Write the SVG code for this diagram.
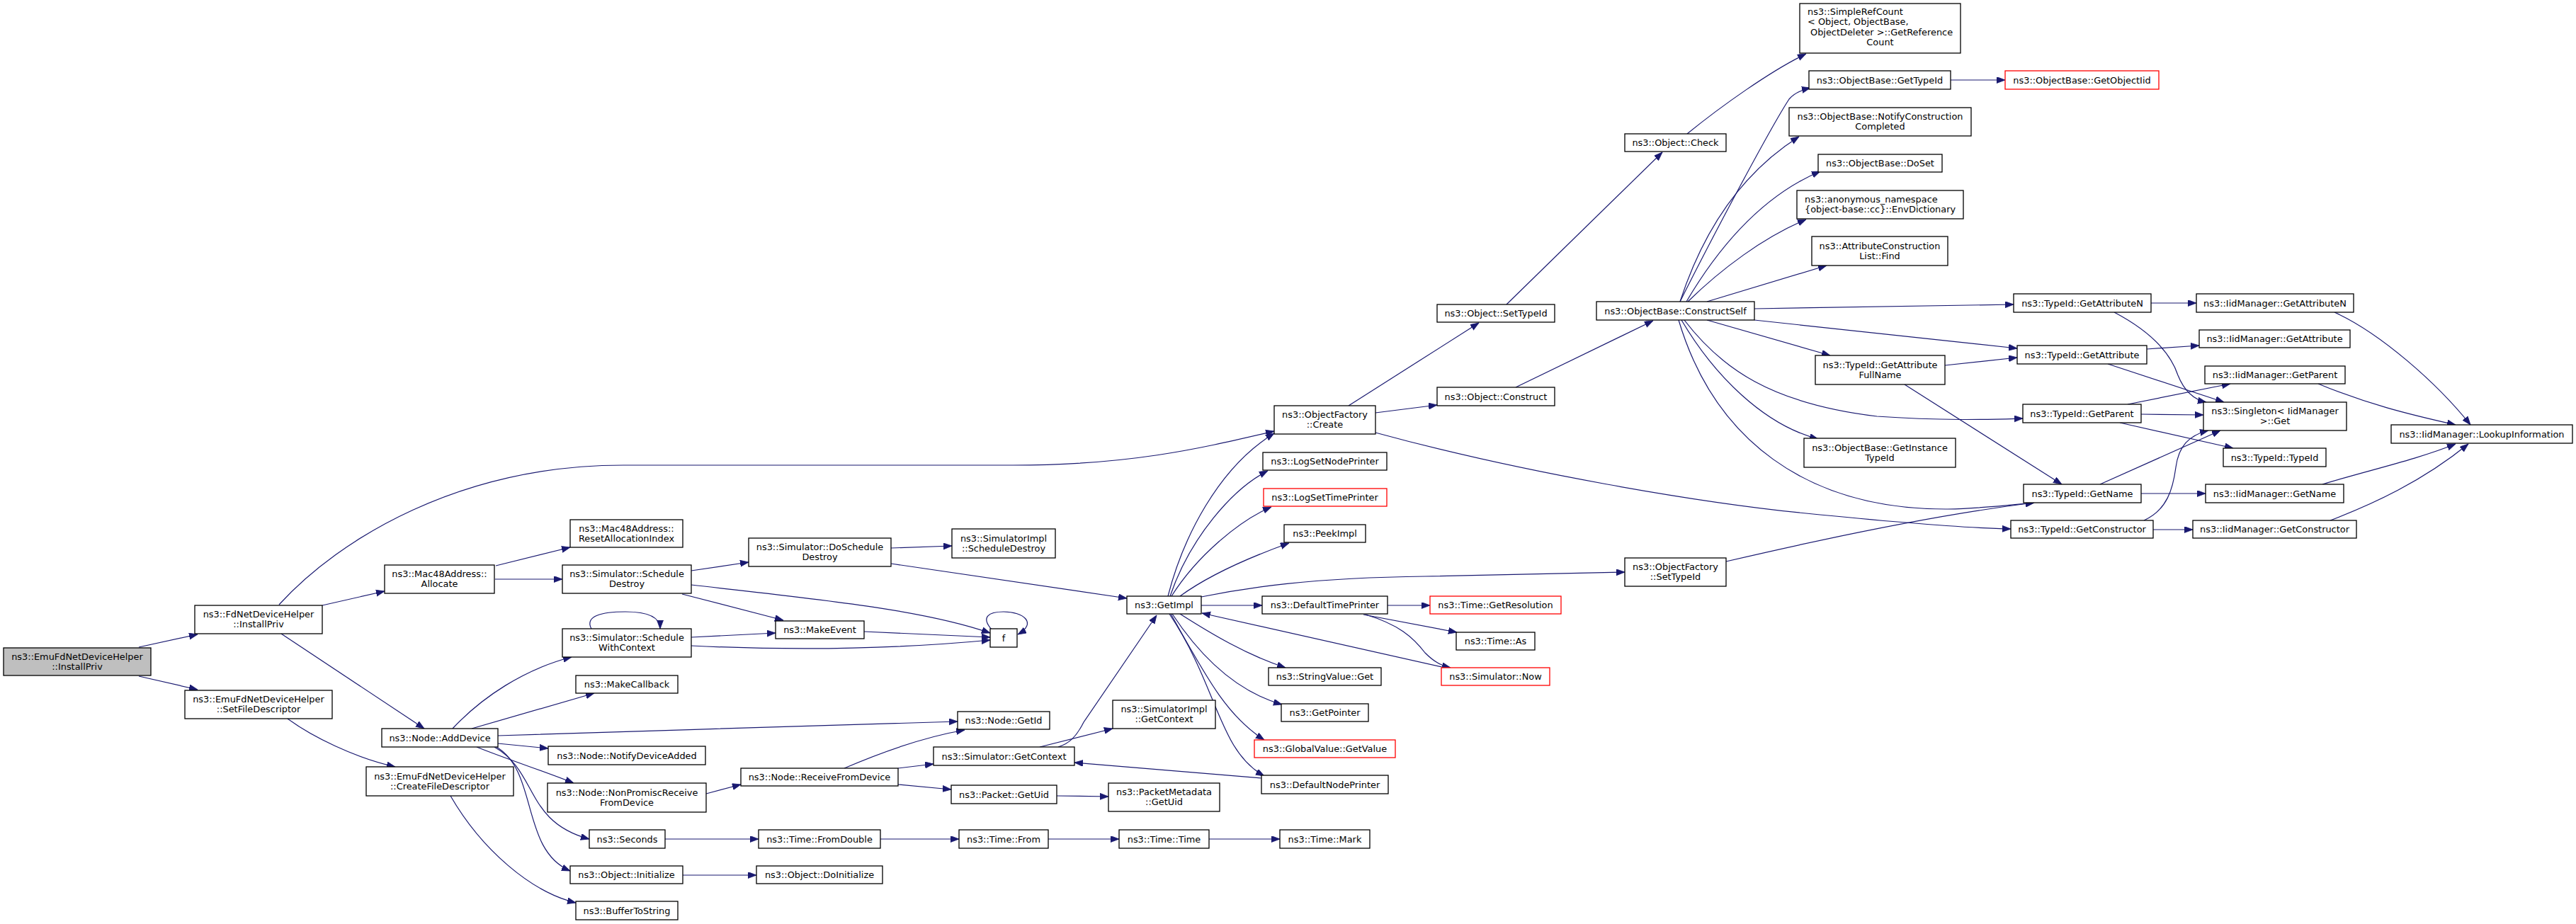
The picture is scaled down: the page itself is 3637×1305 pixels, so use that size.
<svg xmlns="http://www.w3.org/2000/svg" width="3637" height="1305" viewBox="0 0 3637 1305">
<style>
rect.n{fill:#fff;stroke:#000;stroke-width:1.3}
rect.r{fill:#fff;stroke:#ff0000;stroke-width:1.3}
rect.g{fill:#bfbfbf;stroke:#000;stroke-width:1.3}
text{font-family:"DejaVu Sans","Liberation Sans",sans-serif;font-size:12.9px;fill:#000;text-anchor:middle}
text.s{text-anchor:start}
path.e{fill:none;stroke:#191970;stroke-width:1.2;marker-end:url(#a)}
</style>
<defs>
<marker id="a" markerUnits="userSpaceOnUse" markerWidth="13" markerHeight="10" refX="12" refY="4.5" orient="auto">
<path d="M0,0 L12,4.5 L0,9 z" fill="#191970" stroke="#191970" stroke-width="0.8"/>
</marker>
</defs>
<rect x="0" y="0" width="3637" height="1305" fill="#fff"/>
<g id="edges">
<path class="e" d="M196,914 L279,896"/>
<path class="e" d="M196,955 L279,974"/>
<path class="e" d="M394,854 C 480,760 650,657 880,657 L 1430,657 C 1600,657 1700,632 1799,609"/>
<path class="e" d="M455,855 L543,835"/>
<path class="e" d="M397,895 L599,1029"/>
<path class="e" d="M406,1015 C 440,1040 500,1070 558,1083"/>
<path class="e" d="M636,1124 C 680,1200 750,1260 813,1275"/>
<path class="e" d="M700,799 L805,773"/>
<path class="e" d="M699,818 L794,818"/>
<path class="e" d="M639,1029 C 680,985 740,945 807,928"/>
<path class="e" d="M666,1029 L839,979"/>
<path class="e" d="M703,1039 C 900,1033 1200,1023 1352,1019"/>
<path class="e" d="M703,1050 L774,1057"/>
<path class="e" d="M673,1055 C 710,1070 770,1090 810,1106"/>
<path class="e" d="M698,1055 C 760,1090 740,1160 832,1185"/>
<path class="e" d="M701,1055 C 760,1090 735,1200 805,1230"/>
<path class="e" d="M835,888 C 825,870 850,864 883,864 C 915,864 932,872 932,888"/>
<path class="e" d="M976,806 L1057,794"/>
<path class="e" d="M963,839 L1106,876"/>
<path class="e" d="M976,826 C 1150,846 1300,860 1398,894"/>
<path class="e" d="M976,900 L1095,894"/>
<path class="e" d="M976,912 C 1100,918 1250,918 1398,904"/>
<path class="e" d="M1220,892 L1398,900"/>
<path class="e" d="M1400,889 C 1385,872 1395,864 1417,864 C 1445,864 1465,880 1437,896"/>
<path class="e" d="M997,1121 L1046,1108"/>
<path class="e" d="M939,1185 L1071,1185"/>
<path class="e" d="M964,1236 L1068,1236"/>
<path class="e" d="M1258,774 L1344,771"/>
<path class="e" d="M1258,796 L1591,845"/>
<path class="e" d="M1192,1085 C 1250,1060 1310,1040 1362,1031"/>
<path class="e" d="M1268,1085 L1318,1079"/>
<path class="e" d="M1268,1108 L1343,1115"/>
<path class="e" d="M1468,1055 L1571,1029"/>
<path class="e" d="M1494,1055 C 1510,1050 1520,1040 1530,1020 L1633,869"/>
<path class="e" d="M1492,1124 L1565,1125"/>
<path class="e" d="M1243,1185 L1354,1185"/>
<path class="e" d="M1480,1185 L1580,1185"/>
<path class="e" d="M1707,1185 L1807,1185"/>
<path class="e" d="M1781,1099 L1517,1077"/>
<path class="e" d="M1649,842 C 1670,760 1720,660 1799,612"/>
<path class="e" d="M1652,842 C 1680,760 1740,690 1790,665"/>
<path class="e" d="M1654,842 C 1690,785 1750,735 1795,716"/>
<path class="e" d="M1666,842 C 1710,810 1770,785 1820,767"/>
<path class="e" d="M1696,843 C 1760,830 1850,816 2012,814 L 2294,808"/>
<path class="e" d="M1696,855 L1782,855"/>
<path class="e" d="M2036,942 L1697,866"/>
<path class="e" d="M1666,867 C 1710,895 1760,925 1815,943"/>
<path class="e" d="M1655,867 C 1690,920 1740,975 1810,995"/>
<path class="e" d="M1653,867 C 1700,950 1730,1010 1785,1045"/>
<path class="e" d="M1651,867 C 1720,970 1720,1060 1785,1096"/>
<path class="e" d="M1959,855 L2019,855"/>
<path class="e" d="M1925,868 L2057,893"/>
<path class="e" d="M1928,868 C 1975,882 1995,900 2012,922 C 2025,935 2035,940 2048,943"/>
<path class="e" d="M1904,573 L2088,456"/>
<path class="e" d="M1942,583 L2029,572"/>
<path class="e" d="M1942,611 C 2150,668 2400,710 2550,725 C 2700,740 2780,746 2839,747"/>
<path class="e" d="M2437,793 C 2600,755 2750,725 2872,710"/>
<path class="e" d="M2127,430 L2347,215"/>
<path class="e" d="M2140,547 L2334,453"/>
<path class="e" d="M2382,189 C 2430,150 2500,100 2550,76"/>
<path class="e" d="M2372,426 C 2420,330 2500,180 2526,140 C 2532,133 2540,128 2556,124"/>
<path class="e" d="M2372,426 C 2400,340 2450,250 2540,193"/>
<path class="e" d="M2381,426 C 2420,360 2480,280 2570,242"/>
<path class="e" d="M2383,426 C 2430,380 2490,335 2550,310"/>
<path class="e" d="M2410,426 L2579,375"/>
<path class="e" d="M2477,436 L2843,430"/>
<path class="e" d="M2477,452 L2848,492"/>
<path class="e" d="M2410,452 L2584,502"/>
<path class="e" d="M2378,452 C 2430,520 2500,570 2650,588 C 2750,595 2820,592 2856,591"/>
<path class="e" d="M2374,452 C 2420,530 2490,600 2567,620"/>
<path class="e" d="M2370,452 C 2420,620 2550,720 2750,719 C 2800,718 2840,713 2872,710"/>
<path class="e" d="M2754,113 L2831,113"/>
<path class="e" d="M2746,516 L2848,505"/>
<path class="e" d="M2689,543 L2911,684"/>
<path class="e" d="M3037,428 L3101,428"/>
<path class="e" d="M2985,441 C 3040,470 3065,500 3075,530 C 3085,555 3100,565 3115,568"/>
<path class="e" d="M3031,493 L3105,488"/>
<path class="e" d="M2976,514 L3140,568"/>
<path class="e" d="M3004,571 L3149,542"/>
<path class="e" d="M3023,585 L3111,586"/>
<path class="e" d="M2993,597 L3153,633"/>
<path class="e" d="M2965,684 L3135,608"/>
<path class="e" d="M3023,697 L3114,697"/>
<path class="e" d="M3027,735 C 3060,720 3068,690 3072,660 C 3076,630 3090,615 3118,608"/>
<path class="e" d="M3040,748 L3096,748"/>
<path class="e" d="M3296,441 C 3360,470 3440,540 3488,600"/>
<path class="e" d="M3273,542 C 3340,570 3400,585 3467,600"/>
<path class="e" d="M3279,684 C 3340,665 3410,650 3467,627"/>
<path class="e" d="M3290,735 C 3350,712 3420,680 3485,627"/>
</g>
<g id="n0"><rect class="g" x="5" y="915" width="208" height="39"/><text x="109" y="931.5">ns3::EmuFdNetDeviceHelper</text><text x="109" y="945.5">::InstallPriv</text></g>
<g id="n1"><rect class="n" x="275" y="855" width="180" height="40"/><text x="365" y="872">ns3::FdNetDeviceHelper</text><text x="365" y="886">::InstallPriv</text></g>
<g id="n2"><rect class="n" x="261" y="975" width="208" height="40"/><text x="365" y="992">ns3::EmuFdNetDeviceHelper</text><text x="365" y="1006">::SetFileDescriptor</text></g>
<g id="n3"><rect class="n" x="517" y="1083" width="208" height="41"/><text x="621" y="1100.5">ns3::EmuFdNetDeviceHelper</text><text x="621" y="1114.5">::CreateFileDescriptor</text></g>
<g id="n4"><rect class="n" x="543" y="798" width="155" height="40"/><text x="620.5" y="815">ns3::Mac48Address::</text><text x="620.5" y="829">Allocate</text></g>
<g id="n5"><rect class="n" x="539" y="1029" width="164" height="26"/><text x="621" y="1046.5">ns3::Node::AddDevice</text></g>
<g id="n6"><rect class="n" x="805" y="734" width="159" height="39"/><text x="884.5" y="750.5">ns3::Mac48Address::</text><text x="884.5" y="764.5">ResetAllocationIndex</text></g>
<g id="n7"><rect class="n" x="794" y="798" width="182" height="40"/><text x="885" y="815">ns3::Simulator::Schedule</text><text x="885" y="829">Destroy</text></g>
<g id="n8"><rect class="n" x="794" y="888" width="182" height="40"/><text x="885" y="905">ns3::Simulator::Schedule</text><text x="885" y="919">WithContext</text></g>
<g id="n9"><rect class="n" x="813" y="954" width="144" height="25"/><text x="885" y="971">ns3::MakeCallback</text></g>
<g id="n10"><rect class="n" x="774" y="1054" width="222" height="26"/><text x="885" y="1071.5">ns3::Node::NotifyDeviceAdded</text></g>
<g id="n11"><rect class="n" x="773" y="1106" width="224" height="41"/><text x="885" y="1123.5">ns3::Node::NonPromiscReceive</text><text x="885" y="1137.5">FromDevice</text></g>
<g id="n12"><rect class="n" x="832" y="1172" width="107" height="26"/><text x="885.5" y="1189.5">ns3::Seconds</text></g>
<g id="n13"><rect class="n" x="805" y="1223" width="159" height="25"/><text x="884.5" y="1240">ns3::Object::Initialize</text></g>
<g id="n14"><rect class="n" x="813" y="1273" width="144" height="26"/><text x="885" y="1290.5">ns3::BufferToString</text></g>
<g id="n15"><rect class="n" x="1057" y="760" width="201" height="40"/><text x="1157.5" y="777">ns3::Simulator::DoSchedule</text><text x="1157.5" y="791">Destroy</text></g>
<g id="n16"><rect class="n" x="1095" y="877" width="125" height="25"/><text x="1157.5" y="894">ns3::MakeEvent</text></g>
<g id="n17"><rect class="n" x="1046" y="1085" width="222" height="25"/><text x="1157" y="1102">ns3::Node::ReceiveFromDevice</text></g>
<g id="n18"><rect class="n" x="1071" y="1172" width="172" height="26"/><text x="1157" y="1189.5">ns3::Time::FromDouble</text></g>
<g id="n19"><rect class="n" x="1068" y="1223" width="178" height="25"/><text x="1157" y="1240">ns3::Object::DoInitialize</text></g>
<g id="n20"><rect class="n" x="1344" y="747" width="146" height="41"/><text x="1417" y="764.5">ns3::SimulatorImpl</text><text x="1417" y="778.5">::ScheduleDestroy</text></g>
<g id="n21"><rect class="n" x="1398" y="888" width="38" height="26"/><text x="1417" y="905.5">f</text></g>
<g id="n22"><rect class="n" x="1352" y="1005" width="130" height="25"/><text x="1417" y="1022">ns3::Node::GetId</text></g>
<g id="n23"><rect class="n" x="1318" y="1055" width="199" height="26"/><text x="1417.5" y="1072.5">ns3::Simulator::GetContext</text></g>
<g id="n24"><rect class="n" x="1343" y="1109" width="149" height="26"/><text x="1417.5" y="1126.5">ns3::Packet::GetUid</text></g>
<g id="n25"><rect class="n" x="1354" y="1172" width="126" height="26"/><text x="1417" y="1189.5">ns3::Time::From</text></g>
<g id="n26"><rect class="n" x="1591" y="842" width="105" height="25"/><text x="1643.5" y="859">ns3::GetImpl</text></g>
<g id="n27"><rect class="n" x="1571" y="989" width="145" height="40"/><text x="1643.5" y="1006">ns3::SimulatorImpl</text><text x="1643.5" y="1020">::GetContext</text></g>
<g id="n28"><rect class="n" x="1565" y="1106" width="157" height="40"/><text x="1643.5" y="1123">ns3::PacketMetadata</text><text x="1643.5" y="1137">::GetUid</text></g>
<g id="n29"><rect class="n" x="1580" y="1172" width="127" height="26"/><text x="1643.5" y="1189.5">ns3::Time::Time</text></g>
<g id="n30"><rect class="n" x="1807" y="1172" width="127" height="26"/><text x="1870.5" y="1189.5">ns3::Time::Mark</text></g>
<g id="n31"><rect class="n" x="1799" y="573" width="143" height="40"/><text x="1870.5" y="590">ns3::ObjectFactory</text><text x="1870.5" y="604">::Create</text></g>
<g id="n32"><rect class="n" x="1783" y="639" width="175" height="25"/><text x="1870.5" y="656">ns3::LogSetNodePrinter</text></g>
<g id="n33"><rect class="r" x="1784" y="690" width="174" height="25"/><text x="1870.5" y="707">ns3::LogSetTimePrinter</text></g>
<g id="n34"><rect class="n" x="1813" y="741" width="115" height="25"/><text x="1870.5" y="758">ns3::PeekImpl</text></g>
<g id="n35"><rect class="n" x="1782" y="842" width="177" height="25"/><text x="1870.5" y="859">ns3::DefaultTimePrinter</text></g>
<g id="n36"><rect class="n" x="1791" y="943" width="159" height="25"/><text x="1870.5" y="960">ns3::StringValue::Get</text></g>
<g id="n37"><rect class="n" x="1809" y="994" width="123" height="25"/><text x="1870.5" y="1011">ns3::GetPointer</text></g>
<g id="n38"><rect class="r" x="1771" y="1045" width="199" height="25"/><text x="1870.5" y="1062">ns3::GlobalValue::GetValue</text></g>
<g id="n39"><rect class="n" x="1781" y="1095" width="179" height="26"/><text x="1870.5" y="1112.5">ns3::DefaultNodePrinter</text></g>
<g id="n40"><rect class="n" x="2029" y="430" width="166" height="25"/><text x="2112" y="447">ns3::Object::SetTypeId</text></g>
<g id="n41"><rect class="n" x="2029" y="547" width="166" height="26"/><text x="2112" y="564.5">ns3::Object::Construct</text></g>
<g id="n42"><rect class="r" x="2019" y="842" width="185" height="25"/><text x="2111.5" y="859">ns3::Time::GetResolution</text></g>
<g id="n43"><rect class="n" x="2056" y="893" width="111" height="25"/><text x="2111.5" y="910">ns3::Time::As</text></g>
<g id="n44"><rect class="r" x="2035" y="943" width="153" height="25"/><text x="2111.5" y="960">ns3::Simulator::Now</text></g>
<g id="n45"><rect class="n" x="2294" y="189" width="143" height="25"/><text x="2365.5" y="206">ns3::Object::Check</text></g>
<g id="n46"><rect class="n" x="2294" y="788" width="143" height="40"/><text x="2365.5" y="805">ns3::ObjectFactory</text><text x="2365.5" y="819">::SetTypeId</text></g>
<g id="n47"><rect class="n" x="2254" y="426" width="223" height="26"/><text x="2365.5" y="443.5">ns3::ObjectBase::ConstructSelf</text></g>
<g id="n48"><rect class="n" x="2541" y="5" width="227" height="70"/><text class="s" x="2552" y="20.5">ns3::SimpleRefCount</text><text class="s" x="2552" y="35">&lt; Object, ObjectBase,</text><text class="s" x="2556" y="49.5">ObjectDeleter &gt;::GetReference</text><text x="2654.5" y="64">Count</text></g>
<g id="n49"><rect class="n" x="2554" y="100" width="200" height="26"/><text x="2654" y="117.5">ns3::ObjectBase::GetTypeId</text></g>
<g id="n50"><rect class="n" x="2526" y="152" width="257" height="40"/><text x="2654.5" y="169">ns3::ObjectBase::NotifyConstruction</text><text x="2654.5" y="183">Completed</text></g>
<g id="n51"><rect class="n" x="2567" y="218" width="175" height="25"/><text x="2654.5" y="235">ns3::ObjectBase::DoSet</text></g>
<g id="n52"><rect class="n" x="2537" y="269" width="235" height="40"/><text class="s" x="2548" y="286">ns3::anonymous_namespace</text><text class="s" x="2548" y="300">{object-base::cc}::EnvDictionary</text></g>
<g id="n53"><rect class="n" x="2558" y="334" width="192" height="41"/><text x="2654" y="351.5">ns3::AttributeConstruction</text><text x="2654" y="365.5">List::Find</text></g>
<g id="n54"><rect class="n" x="2563" y="502" width="183" height="41"/><text x="2654.5" y="519.5">ns3::TypeId::GetAttribute</text><text x="2654.5" y="533.5">FullName</text></g>
<g id="n55"><rect class="n" x="2547" y="619" width="214" height="41"/><text x="2654" y="636.5">ns3::ObjectBase::GetInstance</text><text x="2654" y="650.5">TypeId</text></g>
<g id="n56"><rect class="r" x="2831" y="100" width="217" height="26"/><text x="2939.5" y="117.5">ns3::ObjectBase::GetObjectIid</text></g>
<g id="n57"><rect class="n" x="2843" y="415" width="194" height="26"/><text x="2940" y="432.5">ns3::TypeId::GetAttributeN</text></g>
<g id="n58"><rect class="n" x="2848" y="488" width="183" height="26"/><text x="2939.5" y="505.5">ns3::TypeId::GetAttribute</text></g>
<g id="n59"><rect class="n" x="2856" y="571" width="167" height="26"/><text x="2939.5" y="588.5">ns3::TypeId::GetParent</text></g>
<g id="n60"><rect class="n" x="2857" y="684" width="166" height="26"/><text x="2940" y="701.5">ns3::TypeId::GetName</text></g>
<g id="n61"><rect class="n" x="2839" y="735" width="201" height="25"/><text x="2939.5" y="752">ns3::TypeId::GetConstructor</text></g>
<g id="n62"><rect class="n" x="3101" y="415" width="222" height="26"/><text x="3212" y="432.5">ns3::IidManager::GetAttributeN</text></g>
<g id="n63"><rect class="n" x="3105" y="466" width="213" height="25"/><text x="3211.5" y="483">ns3::IidManager::GetAttribute</text></g>
<g id="n64"><rect class="n" x="3113" y="517" width="198" height="25"/><text x="3212" y="534">ns3::IidManager::GetParent</text></g>
<g id="n65"><rect class="n" x="3111" y="568" width="202" height="40"/><text x="3212" y="585">ns3::Singleton&lt; IidManager</text><text x="3212" y="599">&gt;::Get</text></g>
<g id="n66"><rect class="n" x="3139" y="633" width="145" height="26"/><text x="3211.5" y="650.5">ns3::TypeId::TypeId</text></g>
<g id="n67"><rect class="n" x="3114" y="684" width="195" height="26"/><text x="3211.5" y="701.5">ns3::IidManager::GetName</text></g>
<g id="n68"><rect class="n" x="3096" y="735" width="231" height="25"/><text x="3211.5" y="752">ns3::IidManager::GetConstructor</text></g>
<g id="n69"><rect class="n" x="3376" y="600" width="256" height="26"/><text x="3504" y="617.5">ns3::IidManager::LookupInformation</text></g>
</svg>
